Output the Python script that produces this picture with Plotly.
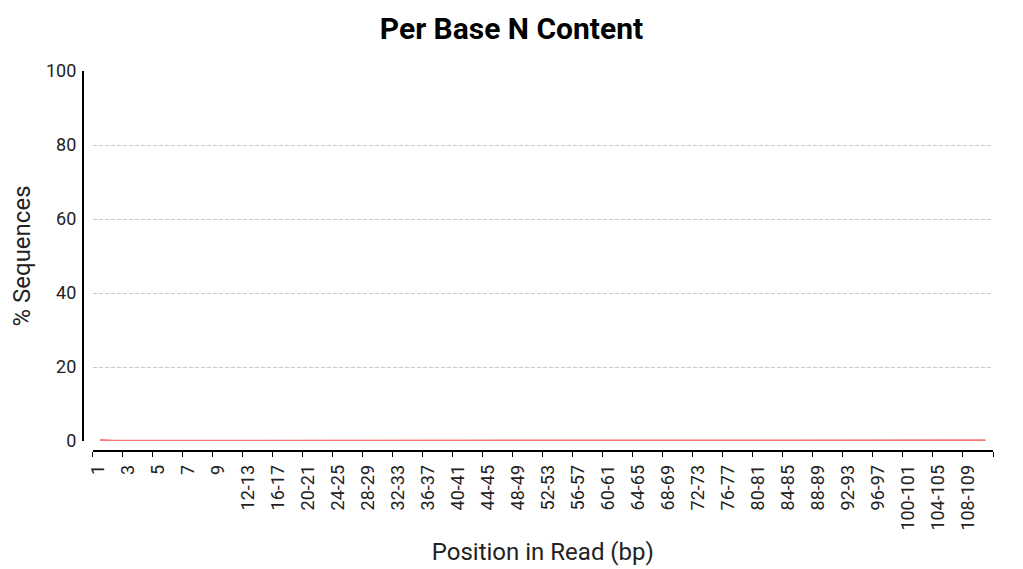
import plotly.graph_objects as go

# ---- data ----
positions = [str(i) for i in range(1, 10)] + [f"{s}-{s+1}" for s in range(10, 112, 2)]
n_content = [
    0.30, 0.06, 0.04, 0.04, 0.04, 0.04, 0.04, 0.04, 0.04, 0.04,
    0.04, 0.04, 0.04, 0.04, 0.04, 0.05, 0.05, 0.05, 0.06, 0.06,
    0.07, 0.07, 0.07, 0.08, 0.08, 0.09, 0.10, 0.09, 0.08, 0.08,
    0.10, 0.12, 0.10, 0.09, 0.09, 0.10, 0.10, 0.11, 0.11, 0.12,
    0.13, 0.14, 0.14, 0.15, 0.15, 0.16, 0.17, 0.18, 0.19, 0.20,
    0.21, 0.20, 0.20, 0.21, 0.20, 0.20, 0.20, 0.19, 0.19, 0.18,
]
y_ticks = [0, 20, 40, 60, 80, 100]

title_text = "Per Base N Content"
x_title = "Position in Read (bp)"
y_title = "% Sequences"

# ---- layout geometry (page body has an 8px margin) ----
W, H = 1023, 569
OFF = 8
plot_x0 = 92.7 - OFF
plot_x1 = 993 - OFF
yaxis_x = 82.7 - OFF
plot_top = 71.3 - OFF
plot_y0 = 441.3 - OFF   # pixel of y=0
xaxis_y = 451.3 - OFF

ml = 64
mr = W - plot_x1
mt = plot_top
mb = H - (xaxis_y + 4)
pw = W - ml - mr
ph = H - mt - mb

x_dom0 = (plot_x0 - ml) / pw
y_pos = (yaxis_x - ml) / pw
y_dom0 = (H - mb - plot_y0) / ph
x_pos = (H - mb - xaxis_y) / ph

n = len(positions)
idx = list(range(n))
band_px = (plot_x1 - plot_x0) / n
label_shift = 5.5 / band_px          # labels sit just right of their tick
label_vals = [i - 0.5 + label_shift for i in idx[::2]]
label_text = positions[::2]

font_family = "Roboto, Arial, sans-serif"

fig = go.Figure()
fig.add_trace(go.Scatter(
    x=idx, y=n_content, mode="lines",
    line=dict(color="rgb(248,118,116)", width=2),
    customdata=positions,
    hovertemplate="%{customdata}: %{y}<extra></extra>",
    showlegend=False,
))

fig.update_layout(
    width=W, height=H,
    margin=dict(l=ml, r=mr, t=mt, b=mb),
    paper_bgcolor="white", plot_bgcolor="white",
    font=dict(family=font_family, color="#222", size=18),
    title=dict(text=title_text, x=(W / 2 - OFF) / W, xref="container",
               y=1 - (28 - OFF) / H, yref="container",
               xanchor="center", yanchor="middle",
               font=dict(family=font_family, size=30, color="black", weight="bold")),
    xaxis=dict(
        domain=[x_dom0, 1], range=[-0.5, n - 0.5],
        anchor="free", position=x_pos,
        showline=True, linecolor="black", linewidth=1.5,
        ticks="", tickmode="array", tickvals=label_vals, ticktext=label_text,
        ticklabelstandoff=6,
        tickangle=-90, tickfont=dict(size=18, color="#222"),
        minor=dict(ticks="outside", ticklen=5, tickcolor="black", tickwidth=1,
                   tickmode="linear", tick0=-0.5, dtick=2, showgrid=False),
        showgrid=False, zeroline=False,
        title=dict(text=x_title, font=dict(size=24, color="#222"), standoff=13),
        automargin=False,
    ),
    yaxis=dict(
        domain=[y_dom0, 1], range=[0, 100],
        anchor="free", position=y_pos,
        showline=True, linecolor="black", linewidth=1.5,
        ticks="", tickmode="array", tickvals=y_ticks,
        tickfont=dict(size=18, color="#222"), ticklabelstandoff=2,
        showgrid=True, gridcolor="#c8c8c8", gridwidth=1, griddash="4px,2px",
        zeroline=False,
        title=dict(text=y_title, font=dict(size=24, color="#222"), standoff=21),
        automargin=False,
    ),
)

fig.write_html("out.html")
